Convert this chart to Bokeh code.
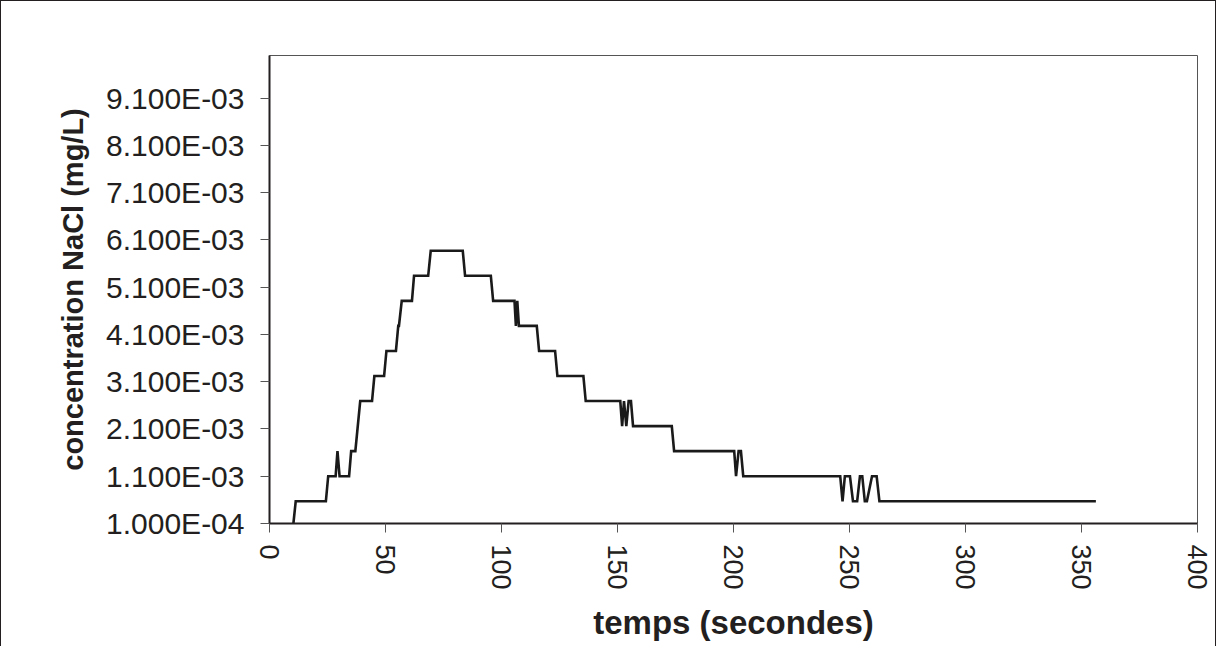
from bokeh.plotting import figure
from bokeh.models import FixedTicker, Range1d
from bokeh.embed import file_html
from bokeh.resources import INLINE

# ---- data ----
temps = [10.3, 11.3, 24.3, 25.3, 28.5, 29.3, 30.2, 34.3, 35.2, 37.0, 39.1, 44.2, 45.2,
         49.4, 50.4, 54.5, 55.5, 55.8, 57.0, 61.4, 62.3, 68.4, 69.5, 83.3, 84.3, 95.4,
         96.4, 105.6, 106.2, 106.8, 107.5, 115.2, 116.2, 123.1, 124.1, 135.3, 136.3,
         151.2, 152.0, 152.8, 153.8, 154.8, 155.8, 156.7, 173.4, 174.4, 200.3, 201.1,
         202.2, 203.2, 204.2, 246.0, 247.0, 248.0, 250.2, 251.5, 253.3, 254.5, 255.5,
         256.6, 257.5, 259.7, 261.7, 262.9, 356.2]
concentration = [0.0001, 0.00057, 0.00057, 0.0011, 0.0011, 0.00163, 0.0011, 0.0011,
                 0.00163, 0.00163, 0.00269, 0.00269, 0.00322, 0.00322, 0.00375, 0.00375,
                 0.00428, 0.00428, 0.00481, 0.00481, 0.00534, 0.00534, 0.00587, 0.00587,
                 0.00534, 0.00534, 0.00481, 0.00481, 0.00428, 0.00481, 0.00428, 0.00428,
                 0.00375, 0.00375, 0.00322, 0.00322, 0.00269, 0.00269, 0.00216, 0.00269,
                 0.00216, 0.00269, 0.00269, 0.00216, 0.00216, 0.00163, 0.00163, 0.0011,
                 0.00163, 0.00163, 0.0011, 0.0011, 0.00057, 0.0011, 0.0011, 0.00057,
                 0.00057, 0.0011, 0.0011, 0.00057, 0.00057, 0.0011, 0.0011, 0.00057,
                 0.00057]

x_ticks = [0, 50, 100, 150, 200, 250, 300, 350, 400]
y_ticks = [0.0001, 0.0011, 0.0021, 0.0031, 0.0041, 0.0051, 0.0061, 0.0071, 0.0081, 0.0091]
y_tick_labels = ["1.000E-04", "1.100E-03", "2.100E-03", "3.100E-03", "4.100E-03",
                 "5.100E-03", "6.100E-03", "7.100E-03", "8.100E-03", "9.100E-03"]

TXT = "#231f20"

p = figure(width=1216, height=646, output_backend="svg", toolbar_location=None,
           x_range=Range1d(0, 400), y_range=Range1d(0.0001, 0.01),
           min_border_left=268, min_border_right=20, min_border_top=54,
           min_border_bottom=124)
p.styles = {"border-top": "1px solid #231f20", "border-left": "1px solid #231f20",
            "border-right": "1px solid #231f20", "box-sizing": "border-box"}

p.line(temps, concentration, line_color="#1a1a1a", line_width=2.6, line_join="miter")

p.xgrid.visible = False
p.ygrid.visible = False
p.outline_line_color = "#555555"
p.outline_line_width = 1

# x axis
p.xaxis.ticker = FixedTicker(ticks=x_ticks)
p.xaxis.major_label_orientation = "vertical"
p.xaxis.major_label_standoff = 12
p.xaxis.major_label_text_font = "Liberation Sans"
p.xaxis.major_label_text_font_size = "27px"
p.xaxis.major_label_text_color = TXT
p.xaxis.axis_label = "temps (secondes)"
p.xaxis.axis_label_text_font = "Liberation Sans"
p.xaxis.axis_label_text_font_style = "bold"
p.xaxis.axis_label_text_font_size = "33px"
p.xaxis.axis_label_text_color = TXT
p.xaxis.axis_label_standoff = 11

# y axis
p.yaxis.ticker = FixedTicker(ticks=y_ticks)
p.yaxis.major_label_overrides = {t: l for t, l in zip(y_ticks, y_tick_labels)}
p.yaxis.major_label_standoff = 16
p.yaxis.major_label_text_font = "Liberation Sans"
p.yaxis.major_label_text_font_size = "30px"
p.yaxis.major_label_text_color = TXT
p.yaxis.axis_label = "concentration NaCl (mg/L)"
p.yaxis.axis_label_text_font = "Liberation Sans"
p.yaxis.axis_label_text_font_style = "bold"
p.yaxis.axis_label_text_font_size = "29px"
p.yaxis.axis_label_text_color = TXT
p.yaxis.axis_label_standoff = 14

for ax in (p.xaxis, p.yaxis):
    ax.axis_line_color = "#231f20"
    ax.axis_line_width = 2
    ax.major_tick_line_color = "#555555"
    ax.major_tick_line_width = 1
    ax.major_tick_out = 9
    ax.major_tick_in = 0
    ax.minor_tick_line_color = None

open("out.html", "w").write(file_html(p, INLINE))
